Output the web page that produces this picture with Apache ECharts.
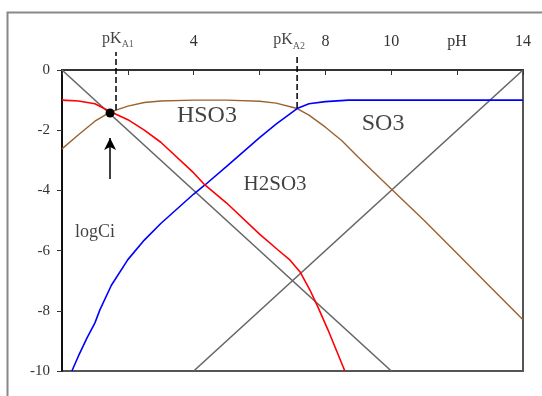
<!DOCTYPE html>
<html>
<head>
<meta charset="utf-8">
<script src="https://cdn.jsdelivr.net/npm/echarts@6/dist/echarts.min.js"></script>
<style>
  html, body { margin: 0; padding: 0; background: #fff; }
  #chart { width: 542px; height: 396px; }
</style>
</head>
<body>
<div id="chart"></div>
<script>
  // values: pH on x, log Ci on y
  var h2so3PH  = [0, 0.5, 1.0, 1.46, 2, 2.5, 3, 4, 4.34, 5, 6, 6.56, 6.92, 7.23, 7.53, 7.77, 8.08, 8.59];
  var h2so3Log = [-1.0, -1.03, -1.12, -1.38, -1.65, -2.0, -2.4, -3.42, -3.82, -4.42, -5.45, -5.98, -6.31, -6.71, -7.31, -7.87, -8.64, -10];

  var hso3PH  = [0, 0.5, 1.0, 1.46, 2, 2.5, 3, 4, 5, 6, 6.5, 7.14, 7.5, 8, 8.5, 9, 10, 11, 12, 13, 14];
  var hso3Log = [-2.62, -2.15, -1.7, -1.4, -1.2, -1.08, -1.03, -1.0, -1.0, -1.04, -1.1, -1.28, -1.5, -1.9, -2.35, -2.9, -3.95, -5.0, -6.1, -7.2, -8.3];

  var so3PH  = [0.3, 0.5, 0.76, 1.0, 1.15, 1.5, 2, 2.5, 3, 4, 4.34, 5, 6, 6.5, 7.14, 7.5, 8, 8.7, 10, 12, 14];
  var so3Log = [-10, -9.5, -8.9, -8.4, -7.97, -7.15, -6.3, -5.65, -5.1, -4.12, -3.82, -3.2, -2.25, -1.8, -1.28, -1.12, -1.05, -1.0, -1.0, -1.0, -1.0];

  var hPH  = [0, 10];
  var hLog = [0, -10];
  var ohPH  = [4, 14];
  var ohLog = [-10, 0];

  var pKa1 = 1.64, pKa2 = 7.14;
  var pKa1Span = [-1.33, 0.6];
  var pKa2Span = [-1.26, 0.5];
  var crossPoint = [1.46, -1.43];
  var arrowSpan = [-3.62, -2.26];

  var xTicks = ['', '', '4', '', '8', '10', 'pH', '14'];

  var noteText = ['HSO3', 'SO3', 'H2SO3', 'logCi', 'pK{s|A1}', 'pK{s|A2}'];
  var noteX    = [4.4, 9.75, 6.47, 1.0, 1.7, 6.9];
  var noteY    = [-1.53, -1.8, -3.82, -5.38, 1.05, 1.0];
  var noteSize = [24, 24, 21, 18, 16, 16];

  function zip(a, b) {
    return a.map(function (v, i) { return [v, b[i]]; });
  }

  var chart = echarts.init(document.getElementById('chart'));
  var serif = 'Liberation Serif';

  function curve(data, color, width) {
    return {
      type: 'line', data: data, symbol: 'none', silent: true,
      lineStyle: { color: color, width: width }
    };
  }

  var notes = noteText.map(function (t, i) {
    return {
      value: [noteX[i], noteY[i]],
      label: { formatter: t, fontSize: noteSize[i] }
    };
  });

  chart.setOption({
    animation: false,
    graphic: [{
      type: 'rect', left: 5, top: 10, silent: true,
      shape: { width: 560, height: 420 },
      style: { fill: 'none', stroke: '#888', lineWidth: 2 }
    }],
    grid: {
      left: 62, top: 70, right: 19, bottom: 25,
      show: true, borderColor: '#555', borderWidth: 2, backgroundColor: '#fff'
    },
    xAxis: {
      type: 'value', position: 'top', min: 0, max: 14, interval: 2,
      axisLine: { lineStyle: { color: '#333', width: 2 } },
      axisTick: { inside: true, length: 5, lineStyle: { color: '#333' } },
      splitLine: { show: false },
      axisLabel: {
        margin: 20, color: '#333', fontFamily: serif, fontSize: 16,
        formatter: function (v) { return xTicks[v / 2]; }
      }
    },
    yAxis: {
      type: 'value', min: -10, max: 0, interval: 2,
      axisLine: { lineStyle: { color: '#111', width: 2 } },
      axisTick: { length: 5, lineStyle: { color: '#333' } },
      splitLine: { show: false },
      axisLabel: { margin: 12, color: '#333', fontFamily: serif, fontSize: 15 }
    },
    series: [
      curve(zip(hPH, hLog), '#666', 1.6),
      curve(zip(ohPH, ohLog), '#666', 1.6),
      curve(zip(hso3PH, hso3Log), '#9a6230', 1.4),
      curve(zip(so3PH, so3Log), '#0000ff', 1.6),
      curve(zip(h2so3PH, h2so3Log), '#ff0000', 1.6),
      {
        type: 'line', clip: false, symbol: 'none', silent: true,
        data: [[pKa1, pKa1Span[0]], [pKa1, pKa1Span[1]]],
        lineStyle: { color: '#000', width: 1.5, type: [6, 3] }
      },
      {
        type: 'line', clip: false, symbol: 'none', silent: true,
        data: [[pKa2, pKa2Span[0]], [pKa2, pKa2Span[1]]],
        lineStyle: { color: '#000', width: 1.5, type: [6, 3] }
      },
      {
        type: 'line', symbol: 'none', silent: true, data: [],
        markLine: {
          silent: true, symbol: ['none', 'arrow'], symbolSize: [9, 12],
          lineStyle: { color: '#000', width: 1.5, type: 'solid' },
          label: { show: false },
          data: [[{ coord: [crossPoint[0], arrowSpan[0]] }, { coord: [crossPoint[0], arrowSpan[1]] }]]
        }
      },
      {
        type: 'scatter', silent: true, symbolSize: 9, z: 10,
        itemStyle: { color: '#000', opacity: 1 },
        data: [crossPoint]
      },
      {
        type: 'scatter', silent: true, clip: false, symbolSize: 1,
        itemStyle: { color: 'rgba(0,0,0,0)' },
        label: {
          show: true, position: 'inside', color: '#111', fontFamily: serif,
          rich: {
            s: { fontSize: 10, lineHeight: 22, verticalAlign: 'bottom', fontFamily: serif, color: '#333' }
          }
        },
        data: notes
      }
    ]
  });
</script>
</body>
</html>
